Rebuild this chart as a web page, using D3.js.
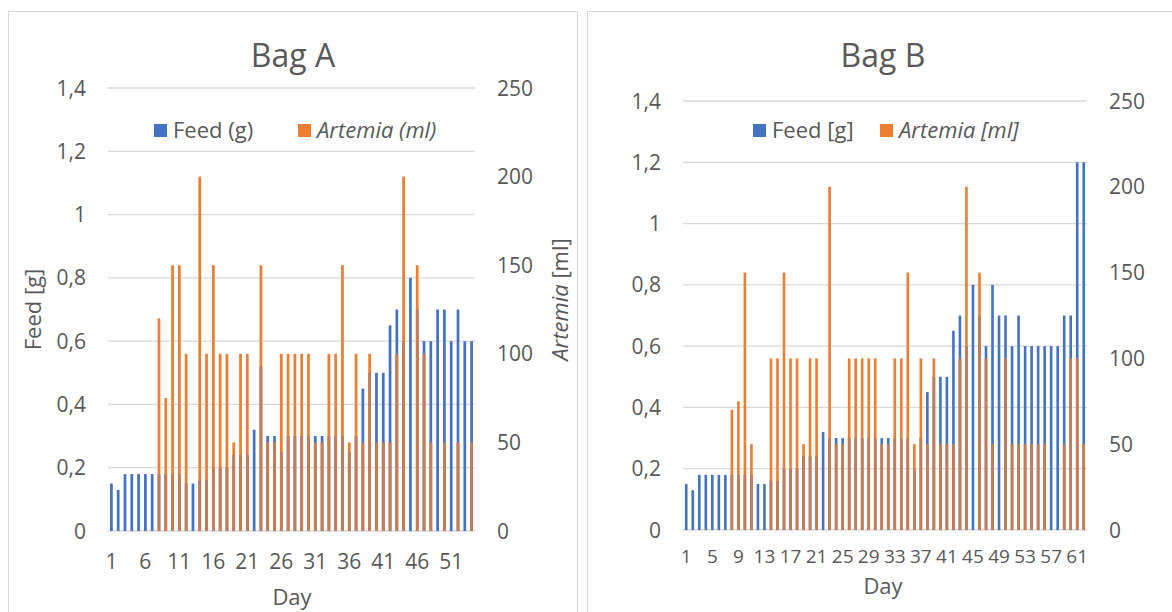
<!DOCTYPE html>
<html><head><meta charset="utf-8">
<script src="https://cdn.jsdelivr.net/npm/d3@7"></script>
<style>
body{margin:0;background:#fff}
svg{display:block}
text{font-family:"Open Sans",sans-serif;fill:#595959}
</style>
</head><body>
<svg id="c" width="1172" height="612"></svg>
<script>
// ---------- data ----------
const daysA = d3.range(1, 55);
const feedA = [0.15,0.13,0.18,0.18,0.18,0.18,0.18,0.18,0.18,0.18,
               0.18,0.15,0.15,0.16,0.16,0.2,0.2,0.2,0.24,0.24,
               0.24,0.32,0.52,0.3,0.3,0.25,0.3,0.3,0.3,0.3,
               0.3,0.3,0.3,0.3,0.3,0.25,0.3,0.45,0.5,0.5,
               0.5,0.65,0.7,0.6,0.8,0.7,0.6,0.6,0.7,0.7,
               0.6,0.7,0.6,0.6];
const artemiaA = [0,0,0,0,0,0,0,120,75,150,
                  150,100,0,200,100,150,100,100,50,100,
                  100,0,150,50,50,100,100,100,100,100,
                  50,50,100,100,150,50,100,50,100,50,
                  50,50,100,200,0,150,100,50,0,50,
                  0,50,0,50];
const xTicksA = [1,6,11,16,21,26,31,36,41,46,51];

const daysB = d3.range(1, 63);
const feedB = [0.15,0.13,0.18,0.18,0.18,0.18,0.18,0.18,0.18,0.18,
               0.18,0.15,0.15,0.16,0.16,0.2,0.2,0.2,0.24,0.24,
               0.24,0.32,0.3,0.3,0.3,0.3,0.3,0.3,0.3,0.3,
               0.3,0.3,0.3,0.3,0.3,0.2,0.3,0.45,0.5,0.5,
               0.5,0.65,0.7,0.6,0.8,0.7,0.6,0.8,0.7,0.7,
               0.6,0.7,0.6,0.6,0.6,0.6,0.6,0.6,0.7,0.7,
               1.2,1.2];
const artemiaB = [0,0,0,0,0,0,0,70,75,150,
                  50,0,0,100,100,150,100,100,50,100,
                  100,0,200,50,50,100,100,100,100,100,
                  50,50,100,100,150,50,100,50,100,50,
                  50,50,100,200,0,150,100,50,0,100,
                  50,50,50,50,50,50,0,0,50,100,
                  100,50];
const xTicksB = [1,5,9,13,17,21,25,29,33,37,41,45,49,53,57,61];

const feedTicks = [0,0.2,0.4,0.6,0.8,1,1.2,1.4];
const artemiaTicks = [0,50,100,150,200,250];

// ---------- styles ----------
const BLUE = "#4472C4", ORANGE = "#ED7D31", GRID = "#d9d9d9";
const locale = d3.formatLocale({decimal:",", thousands:".", grouping:[3], currency:["","€"]});
const fmt = locale.format("~g");

const svg = d3.select("#c");

function panel(cfg) {
  const g = svg.append("g");
  g.append("rect").attr("x", cfg.box[0]).attr("y", cfg.box[1])
    .attr("width", cfg.box[2]).attr("height", cfg.box[3])
    .attr("fill", "none").attr("stroke", GRID).attr("stroke-width", 1);

  const x = d3.scaleBand().domain(cfg.days).range([cfg.left, cfg.right])
    .paddingInner(0.6).paddingOuter(0.3);
  const yF = d3.scaleLinear().domain([0, 1.4]).range([cfg.bottom, cfg.top]);
  const yA = d3.scaleLinear().domain([0, 250]).range([cfg.bottom, cfg.top]);

  g.selectAll(".grid").data(feedTicks).join("line")
    .attr("x1", cfg.left).attr("x2", cfg.right)
    .attr("y1", d => yF(d)).attr("y2", d => yF(d))
    .attr("stroke", GRID).attr("stroke-width", 1.3);

  g.selectAll(".ly").data(feedTicks).join("text")
    .attr("x", cfg.left - 22).attr("y", d => yF(d)).attr("dy", "0.36em")
    .attr("text-anchor", "end").attr("font-size", 21).text(d => fmt(d));
  g.selectAll(".ry").data(artemiaTicks).join("text")
    .attr("x", cfg.right + 22).attr("y", d => yA(d)).attr("dy", "0.36em")
    .attr("text-anchor", "start").attr("font-size", 21).text(d => d);

  const data = cfg.days.map((d, i) => ({day: d, feed: cfg.feed[i], art: cfg.art[i]}));

  g.selectAll(".fb").data(data.filter(d => d.feed > 0)).join("rect")
    .attr("x", d => x(d.day)).attr("width", x.bandwidth())
    .attr("y", d => yF(d.feed)).attr("height", d => yF(0) - yF(d.feed))
    .attr("fill", BLUE);
  g.selectAll(".ab").data(data.filter(d => d.art > 0)).join("rect")
    .attr("x", d => x(d.day)).attr("width", x.bandwidth())
    .attr("y", d => yA(d.art)).attr("height", d => yA(0) - yA(d.art))
    .attr("fill", ORANGE);
  g.selectAll(".ov").data(data.filter(d => d.art > 0 && d.feed > 0)).join("rect")
    .attr("x", d => x(d.day)).attr("width", x.bandwidth())
    .attr("y", d => Math.max(yA(d.art), yF(d.feed)))
    .attr("height", d => yF(0) - Math.max(yA(d.art), yF(d.feed)))
    .attr("fill", BLUE).attr("opacity", 0.2);

  g.selectAll(".xl").data(cfg.xTicks).join("text")
    .attr("x", d => x(d) + x.bandwidth() / 2).attr("y", cfg.xLabelY).attr("dy", "0.36em")
    .attr("text-anchor", "middle").attr("font-size", cfg.xFont).text(d => d);

  g.append("text").attr("x", cfg.titleX).attr("y", 66.5)
    .attr("text-anchor", "middle").attr("font-size", 32).text(cfg.title);

  g.append("text").attr("x", cfg.dayX).attr("y", cfg.dayY).attr("dy", "0.36em")
    .attr("text-anchor", "middle").attr("font-size", 22).text("Day");

  const lg = g.append("g");
  lg.append("rect").attr("x", cfg.leg[0]).attr("y", 124).attr("width", 13).attr("height", 13).attr("fill", BLUE);
  lg.append("text").attr("x", cfg.leg[0] + 19).attr("y", 130.5).attr("dy", "0.36em")
    .attr("font-size", 22).text(cfg.legFeed);
  lg.append("rect").attr("x", cfg.leg[1]).attr("y", 124).attr("width", 13).attr("height", 13).attr("fill", ORANGE);
  lg.append("text").attr("x", cfg.leg[1] + 19).attr("y", 130.5).attr("dy", "0.36em")
    .attr("font-size", 22).attr("font-style", "italic").text(cfg.legArt);

  if (cfg.axisTitles) {
    const cy = (cfg.top + cfg.bottom) / 2;
    g.append("text").attr("transform", `translate(33,${cy}) rotate(-90)`).attr("dy", "0.36em")
      .attr("text-anchor", "middle").attr("font-size", 22).text("Feed [g]");
    const rt = g.append("text").attr("transform", `translate(560,${cy - 10}) rotate(-90)`).attr("dy", "0.36em")
      .attr("text-anchor", "middle").attr("font-size", 22);
    rt.append("tspan").attr("font-style", "italic").text("Artemia");
    rt.append("tspan").text(" [ml]");
  }
}

panel({
  box: [8.5, 11.5, 569, 640], left: 108, right: 475, top: 88, bottom: 531,
  days: daysA, feed: feedA, art: artemiaA, xTicks: xTicksA, xFont: 21,
  xLabelY: 561, title: "Bag A", titleX: 293, dayX: 292, dayY: 597,
  leg: [154, 298], legFeed: "Feed (g)", legArt: "Artemia (ml)", axisTitles: true
});
panel({
  box: [587.5, 11.5, 640, 640], left: 683, right: 1087, top: 101, bottom: 530,
  days: daysB, feed: feedB, art: artemiaB, xTicks: xTicksB, xFont: 19,
  xLabelY: 556, title: "Bag B", titleX: 883, dayX: 883, dayY: 586,
  leg: [753, 880], legFeed: "Feed [g]", legArt: "Artemia [ml]", axisTitles: false
});
</script>
</body></html>
